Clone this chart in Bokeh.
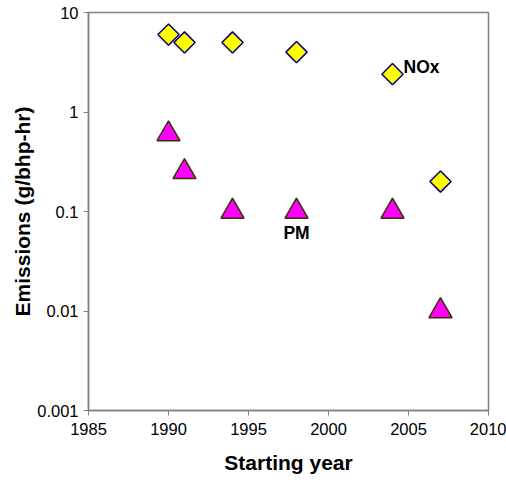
import math
from bokeh.plotting import figure
from bokeh.models import FixedTicker, ColumnDataSource, CustomJSTickFormatter
from bokeh.embed import file_html
from bokeh.resources import INLINE
from bokeh.core.properties import value

# Data
nox_years = [1990, 1991, 1994, 1998, 2004, 2007]
nox_values = [6.0, 5.0, 5.0, 4.0, 2.4, 0.2]
pm_years = [1990, 1991, 1994, 1998, 2004, 2007]
pm_values = [0.6, 0.25, 0.1, 0.1, 0.1, 0.01]
x_ticks = [1985, 1990, 1995, 2000, 2005, 2010]
y_ticks = [0.001, 0.01, 0.1, 1, 10]
y_tick_labels = ["0.001", "0.01", "0.1", "1", "10"]

FONT = "Liberation Sans"

p = figure(width=506, height=485, output_backend="svg", toolbar_location=None,
           y_axis_type="log", x_range=(1985, 2010), y_range=(0.001, 10),
           min_border_left=88, min_border_right=18, min_border_top=12,
           min_border_bottom=75)
p.background_fill_color = "white"
p.border_fill_color = "white"
p.outline_line_color = "#808080"
p.outline_line_width = 1.5
p.xgrid.visible = False
p.ygrid.visible = False

p.xaxis.ticker = FixedTicker(ticks=x_ticks)
p.yaxis.ticker = FixedTicker(ticks=y_ticks, minor_ticks=[])
p.xaxis.minor_tick_line_color = None
p.yaxis.minor_tick_line_color = None
p.yaxis.formatter = CustomJSTickFormatter(args=dict(vals=y_ticks, labs=y_tick_labels), code="""
const i = vals.findIndex(v => Math.abs(Math.log10(v) - Math.log10(tick)) < 1e-6);
return i >= 0 ? labs[i] : '';
""")

for ax in (p.xaxis, p.yaxis):
    ax.axis_line_color = "#808080"
    ax.axis_line_width = 1.5
    ax.major_tick_line_color = "#808080"
    ax.major_tick_in = 0
    ax.major_tick_out = 5
    ax.major_label_text_font = FONT
    ax.major_label_text_font_size = "16.5px"
    ax.major_label_text_color = "black"
    ax.axis_label_text_font = FONT
    ax.axis_label_text_font_size = "21px"
    ax.axis_label_text_font_style = "bold"
    ax.axis_label_text_color = "black"

p.xaxis.axis_label = "Starting year"
p.yaxis.axis_label = "Emissions (g/bhp-hr)"
p.xaxis.major_label_standoff = 7
p.xaxis.axis_label_standoff = 13
p.yaxis.major_label_standoff = 5
p.yaxis.axis_label_standoff = 0

p.scatter(nox_years, nox_values, marker="square", angle=math.pi / 4, size=15,
          fill_color="#FFFF00", line_color="#000080", line_width=1.5)
p.scatter(pm_years, pm_values, marker="triangle", size=23,
          fill_color="#FF00FF", line_color="#333300", line_width=1.5)

labels = ColumnDataSource(dict(x=[2004, 1998], y=[2.4, 0.1], t=["NOx", "PM"],
                               xo=[11, 0], yo=[-7, 21], al=["left", "center"]))
p.text(x="x", y="y", text="t", x_offset="xo", y_offset="yo", text_align="al",
       text_baseline="middle", source=labels, text_font=value(FONT),
       text_font_size="17.5px", text_font_style="bold", text_color="black")

open("out.html", "w").write(file_html(p, INLINE))
